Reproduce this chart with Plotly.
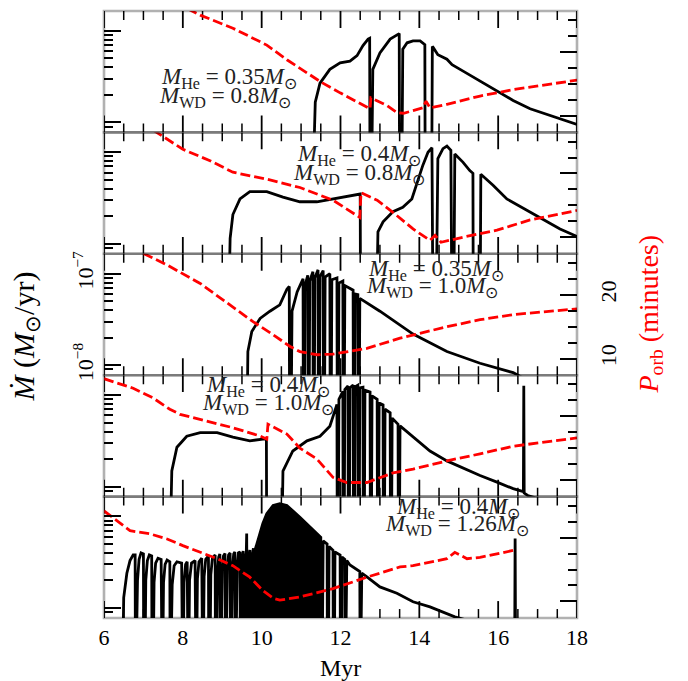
import numpy as np
import plotly.graph_objects as go

# Mass-transfer rate (units of 1e-8 Msun/yr) and orbital period (minutes) vs time (Myr)

# --- M_He = 0.35, M_WD = 0.8 ---
p1_t = [11.28, 11.36, 11.48, 11.73, 11.99, 12.24, 12.42, 12.57, 12.70, 12.74, 12.75, 12.78, 12.82,
        13.00, 13.26, 13.43, 13.49, 13.50, 13.55, 13.58, 13.69, 13.84, 14.02, 14.14, 14.15, 14.31,
        14.33, 14.35, 14.47, 14.70, 14.83, 15.11, 15.54, 15.97, 16.38, 16.81, 17.24, 18.0]
p1_mdot = [0.1, 1.66, 2.69, 3.80, 4.47, 4.68, 5.37, 6.92, 8.13, 8.3, 0.1, 0.1, 3.80,
           5.75, 8.13, 9.12, 9.33, 0.1, 0.1, 6.31, 7.41, 7.76, 7.76, 7.08, 0.1, 0.1,
           6.76, 6.6, 5.50, 4.90, 4.27, 3.63, 2.82, 2.19, 1.74, 1.41, 1.23, 0.95]
p1_tp = [8.12, 8.44, 9.27, 10.13, 10.64, 11.15, 11.53, 11.99, 12.67, 12.75, 12.77, 13.18, 13.43,
         13.60, 13.84, 14.09, 14.17, 14.27, 14.70, 15.54, 16.38, 17.24, 18.0]
p1_porb = [26.8, 25.8, 23.75, 21.1, 18.8, 16.7, 15.2, 13.6, 11.4, 11.1, 12.8, 11.6, 10.5,
           10.4, 10.8, 11.25, 12.3, 11.25, 11.8, 13.1, 14.1, 14.9, 15.6]

# --- M_He = 0.4, M_WD = 0.8 ---
p2_t = [9.15, 9.20, 9.27, 9.45, 9.70, 10.13, 10.54, 10.97, 11.40, 11.81, 12.42, 12.50, 12.51,
        12.90, 12.95, 13.08, 13.33, 13.58, 13.81, 13.94, 14.09, 14.22, 14.32, 14.35, 14.42, 14.47,
        14.60, 14.70, 14.80, 14.83, 14.87, 14.90, 15.11, 15.28, 15.36, 15.37, 15.54, 15.56, 15.87,
        16.22, 16.81, 17.24, 17.57, 18.0]
p2_mdot = [0.1, 1.15, 2.09, 3.09, 3.72, 3.72, 3.24, 2.88, 2.88, 3.09, 3.47, 3.5, 0.1,
           0.1, 1.35, 1.74, 2.24, 2.51, 3.09, 4.68, 7.24, 10.0, 11.2, 0.1, 0.1, 8.51,
           10.96, 11.7, 10.5, 0.1, 0.1, 9.55, 7.76, 6.31, 5.89, 0.1, 0.1, 5.75, 4.37,
           3.09, 2.24, 1.74, 1.45, 1.20]
p2_tp = [7.25, 8.0, 8.69, 9.27, 10.13, 10.97, 11.81, 12.49, 12.52, 12.93, 13.33, 13.84, 14.27,
         14.40, 14.55, 15.11, 15.97, 16.81, 18.0]
p2_porb = [26.8, 23.8, 22.0, 20.2, 19.1, 17.8, 15.8, 13.1, 17.0, 15.8, 13.9, 11.3, 9.5,
           10.3, 9.2, 10.0, 11.1, 12.7, 14.2]

# --- M_He = 0.35, M_WD = 1.0 ---
p3_t = [9.62, 9.65, 9.75, 9.96, 10.21, 10.46, 10.64, 10.70,
        10.71, 10.74, 10.77, 10.90,
        11.05, 11.06, 11.08, 11.10,
        11.17, 11.18, 11.20, 11.22,
        11.30, 11.31, 11.33, 11.35,
        11.43, 11.44, 11.46, 11.48,
        11.56, 11.57, 11.59, 11.61,
        11.73, 11.74, 11.76, 11.78,
        11.91, 11.92, 11.94, 11.96,
        12.06, 12.07, 12.09, 12.11,
        12.32, 12.33, 12.35, 12.37,
        12.44, 12.45, 12.47, 12.49,
        13.0, 13.84, 14.70, 15.54, 16.38, 16.70]
p3_mdot = [0.1, 1.41, 2.34, 3.24, 3.89, 4.57, 6.76, 7.24,
           0.1, 0.1, 3.89, 6.31,
           8.8, 0.1, 0.1, 7.5,
           9.6, 0.1, 0.1, 8.3,
           10.5, 0.1, 0.1, 9.0,
           11.0, 0.1, 0.1, 9.3,
           10.8, 0.1, 0.1, 9.2,
           10.0, 0.1, 0.1, 8.6,
           9.0, 0.1, 0.1, 7.9,
           8.3, 0.1, 0.1, 7.4,
           6.6, 0.1, 0.1, 6.0,
           5.9, 0.1, 0.1, 5.37,
           3.89, 2.19, 1.41, 1.05, 0.83, 0.70]
p3_tp = [7.0, 7.60, 8.44, 9.27, 9.78, 10.29, 10.72, 10.97, 11.40, 11.81, 12.24, 12.67, 13.51,
         14.70, 15.54, 16.38, 18.0]
p3_porb = [26.5, 24.7, 21.8, 18.1, 15.8, 13.75, 11.9, 11.1, 10.6, 10.7, 11.1, 11.6, 13.2,
           15.0, 16.1, 16.9, 17.8]

# --- M_He = 0.4, M_WD = 1.0 ---
p4_t = [7.66, 7.72, 7.85, 8.10, 8.44, 8.87, 9.27, 9.70, 10.03, 10.12, 10.13,
        10.50, 10.54, 10.79, 11.15, 11.48, 11.73, 11.86, 11.91,
        11.92, 11.94, 11.96, 12.06,
        12.07, 12.09, 12.11, 12.19,
        12.20, 12.22, 12.24, 12.32,
        12.33, 12.35, 12.37, 12.44,
        12.45, 12.47, 12.49, 12.57,
        12.58, 12.60, 12.62, 12.75,
        12.76, 12.78, 12.80, 12.93,
        12.94, 12.96, 12.98, 13.08,
        13.09, 13.11, 13.13, 13.26,
        13.27, 13.29, 13.31, 13.46,
        13.47, 13.49, 13.51,
        13.84, 14.27, 14.70, 15.11, 15.54, 15.97, 16.38, 16.64, 16.65, 16.66, 16.75, 17.20]
p4_mdot = [0.1, 1.48, 2.69, 3.55, 3.89, 3.89, 3.47, 3.16, 3.31, 3.3, 0.1,
           0.1, 1.48, 2.45, 3.16, 3.55, 4.57, 6.76, 7.9,
           0.1, 0.1, 9.0, 11.0,
           0.1, 0.1, 11.5, 12.6,
           0.1, 0.1, 12.0, 12.9,
           0.1, 0.1, 12.3, 12.8,
           0.1, 0.1, 12.0, 12.2,
           0.1, 0.1, 11.3, 10.8,
           0.1, 0.1, 9.8, 9.0,
           0.1, 0.1, 8.2, 7.8,
           0.1, 0.1, 7.0, 6.4,
           0.1, 0.1, 5.6, 4.8,
           0.1, 0.1, 4.6,
           3.47, 2.45, 1.91, 1.58, 1.32, 1.12, 0.95, 0.88, 12.6, 0.85, 0.8, 0.7]
p4_tp = [6.0, 6.74, 7.24, 7.67, 7.93, 8.44, 9.27, 9.96, 10.13, 10.16, 10.64, 10.97, 11.40,
         11.81, 12.0, 12.16, 12.67, 13.33, 13.84, 14.70, 15.54, 16.38, 18.0]
p4_porb = [25.9, 24.4, 22.9, 21.1, 20.3, 19.5, 18.2, 16.9, 16.4, 18.75, 17.2, 15.0, 13.3,
           10.4, 9.9, 9.6, 9.6, 11.1, 11.7, 13.0, 14.1, 15.3, 16.6]

# --- M_He = 0.4, M_WD = 1.26 ---
# early flashes
p5_flash_t = [6.46, 6.50, 6.58, 6.66, 6.74, 6.79, 6.80,
              6.82, 6.85, 6.89, 6.94, 7.00, 7.01,
              7.03, 7.06, 7.10, 7.15, 7.21, 7.22,
              7.24, 7.27, 7.31, 7.37, 7.45, 7.46,
              7.48, 7.51, 7.55, 7.60, 7.67, 7.68,
              7.70, 7.73, 7.78, 7.85, 7.97, 7.98,
              8.00, 8.03, 8.07, 8.11, 8.12,
              8.14, 8.17, 8.22, 8.31, 8.32,
              8.34, 8.37, 8.41, 8.48, 8.49,
              8.51, 8.54, 8.58, 8.65, 8.66,
              8.68, 8.71, 8.75, 8.82, 8.83,
              8.85, 8.88, 8.91, 8.94, 8.95,
              8.97, 9.00, 9.03, 9.07, 9.08,
              9.10, 9.13, 9.16, 9.20, 9.21,
              9.23, 9.26, 9.29, 9.32, 9.33,
              9.35, 9.38, 9.41, 9.45, 9.46,
              9.47, 9.50, 9.53, 9.54,
              9.55, 9.58, 9.61, 9.62, 9.63,
              9.64, 9.67, 9.70, 9.71,
              9.72, 9.75, 9.79, 9.80]
p5_flash_mdot = [0.1, 1.3, 2.4, 3.3, 3.8, 3.8, 0.1,
                 0.1, 2.0, 3.4, 4.0, 3.9, 0.1,
                 0.1, 2.0, 3.3, 3.8, 3.7, 0.1,
                 0.1, 1.9, 3.1, 3.5, 3.4, 0.1,
                 0.1, 1.9, 3.0, 3.35, 3.2, 0.1,
                 0.1, 1.8, 2.9, 3.2, 3.1, 0.1,
                 0.1, 1.9, 3.0, 3.2, 0.1,
                 0.1, 2.0, 3.1, 3.3, 0.1,
                 0.1, 2.1, 3.2, 3.5, 0.1,
                 0.1, 2.2, 3.4, 3.7, 0.1,
                 0.1, 2.3, 3.5, 3.8, 0.1,
                 0.1, 2.5, 3.6, 3.9, 0.1,
                 0.1, 2.6, 3.7, 3.95, 0.1,
                 0.1, 2.7, 3.8, 4.0, 0.1,
                 0.1, 2.8, 3.9, 4.1, 0.1,
                 0.1, 2.9, 4.0, 4.1, 0.1,
                 0.1, 3.2, 4.2, 0.1,
                 0.1, 3.3, 4.1, 6.5, 0.1,
                 0.1, 3.4, 4.3, 0.1,
                 0.1, 3.5, 4.5, 0.1]
# densely packed flashes: upper envelope
p5_burst_t = [9.81, 9.83, 9.96, 10.03, 10.13, 10.29, 10.46, 10.64, 10.97, 11.40, 11.50, 11.51]
p5_burst_mdot = [0.1, 4.27, 6.6, 8.4, 10.7, 13.2, 13.8, 13.2, 9.8, 6.6, 5.9, 0.1]
# late flashes and decline
p5_tail_t = [11.53, 11.56, 11.66, 11.67, 11.69, 11.71, 11.81, 11.82, 11.84, 11.86, 11.99, 12.00,
             12.02, 12.04, 12.11, 12.12, 12.14, 12.16, 12.24, 12.49, 12.50, 12.52, 12.54, 12.67,
             13.0, 13.43, 13.84, 14.27, 14.70, 14.90, 15.30, 16.42, 16.43, 16.44]
p5_tail_mdot = [0.1, 5.4, 5.0, 0.1, 0.1, 4.7, 4.27, 0.1, 0.1, 4.1, 3.8, 0.1,
                0.1, 3.6, 3.4, 0.1, 0.1, 3.3, 2.95, 2.5, 0.1, 0.1, 2.4, 2.19,
                1.70, 1.45, 1.17, 1.03, 0.87, 0.80, 0.72, 0.5, 5.75, 0.5]
p5_tp = [6.0, 6.33, 6.66, 7.17, 7.60, 8.0, 8.44, 8.87, 9.27, 9.70, 10.03, 10.29, 10.46, 10.97,
         11.81, 12.67, 13.51, 13.84, 14.70, 14.90, 15.21, 15.54, 16.38, 16.43]
p5_porb = [24.2, 22.7, 21.1, 20.6, 19.8, 18.75, 17.7, 16.7, 15.6, 13.8, 11.7, 10.5, 10.2, 10.7,
           12.0, 13.8, 15.4, 15.6, 16.7, 17.7, 16.7, 16.9, 18.0, 18.0]

p5_t = p5_flash_t + p5_burst_t + p5_tail_t
p5_mdot = p5_flash_mdot + p5_burst_mdot + p5_tail_mdot

labels_he = ["0.35", "0.4", "0.35", "0.4", "0.4"]
labels_wd = ["0.8", "0.8", "1.0", "1.0", "1.26"]

# axis ticks
x_major = [6, 8, 10, 12, 14, 16, 18]
x_minor = [6.5, 7, 7.5, 8.5, 9, 9.5, 10.5, 11, 11.5, 12.5, 13, 13.5, 14.5, 15, 15.5,
           16.5, 17, 17.5]
mdot_major = [1e-8, 1e-7]
mdot_major_text = ["10<sup>−8</sup>", "10<sup>−7</sup>"]
mdot_minor = [9e-9, 2e-8, 3e-8, 4e-8, 5e-8, 6e-8, 7e-8, 8e-8, 9e-8, 2e-7]
porb_major = [10, 20]
porb_minor = [7.5, 12.5, 15, 17.5, 22.5, 25]

panels = [
    (p1_t, p1_mdot, p1_tp, p1_porb),
    (p2_t, p2_mdot, p2_tp, p2_porb),
    (p3_t, p3_mdot, p3_tp, p3_porb),
    (p4_t, p4_mdot, p4_tp, p4_porb),
    (p5_t, p5_mdot, p5_tp, p5_porb),
]

UNIT = 1e-8
LOG_RANGE = [-8.109, -6.783]
PORB_RANGE = [7.39, 26.45]
FONT = "Liberation Serif"
W, H = 688, 681
ML, MR, MT, MB = 104, 111, 8, 63
PW, PH = W - ML - MR, H - MT - MB
PANEL_H = PH / 5
MAJOR_LEN, MINOR_LEN = 17, 9


def px_to_paper(px, py):
    return (px - ML) / PW, (H - MB - py) / PH


def ax_name(prefix, n):
    return prefix if n == 1 else f"{prefix}{n}"


def time_tick_segments(vals, length_px):
    """Short vertical marks at the bottom and top edges of a panel (log Mdot axis)."""
    lo, hi = LOG_RANGE
    d = (hi - lo) * length_px / PANEL_H
    xs, ys = [], []
    for v in vals:
        xs += [v, v, None, v, v, None]
        ys += [10 ** lo, 10 ** (lo + d), None, 10 ** hi, 10 ** (hi - d), None]
    return xs, ys


fig = go.Figure()
layout = {}
tickfont = dict(family=FONT, size=22, color="black")
minor_style = dict(ticks="inside", tickmode="array", ticklen=MINOR_LEN, tickwidth=1.5,
                   tickcolor="black", showgrid=False)

for i, (t, m, tp, pb) in enumerate(panels, start=1):
    xa = ax_name("x", i)
    ya_m = ax_name("y", 2 * i - 1)
    ya_p = ax_name("y", 2 * i)
    dom = [1 - i / 5, 1 - (i - 1) / 5]

    # time-axis tick marks
    for vals, length, width in ((x_major, MAJOR_LEN, 1.8), (x_minor, MINOR_LEN, 1.5)):
        tx, ty = time_tick_segments(vals, length)
        fig.add_trace(go.Scatter(x=tx, y=ty, mode="lines", hoverinfo="skip",
                                 line=dict(color="black", width=width),
                                 xaxis=xa, yaxis=ya_m))

    if i == 5:
        # filled region of the rapid flash sequence
        fill_t = p5_burst_t + [p5_burst_t[-1], p5_burst_t[0]]
        fill_m = p5_burst_mdot + [0.1, 0.1]
        fig.add_trace(go.Scatter(x=fill_t, y=np.array(fill_m) * UNIT, mode="lines",
                                 fill="toself", fillcolor="black",
                                 line=dict(color="black", width=0.5), hoverinfo="skip",
                                 xaxis=xa, yaxis=ya_m))

    fig.add_trace(go.Scatter(x=t, y=np.array(m) * UNIT, mode="lines",
                             line=dict(color="black", width=2.8), xaxis=xa, yaxis=ya_m))
    fig.add_trace(go.Scatter(x=tp, y=pb, mode="lines",
                             line=dict(color="#ff0000", width=2.8, dash="10px,4px"),
                             xaxis=xa, yaxis=ya_p))

    layout[ax_name("xaxis", i)] = dict(
        domain=[0, 1], anchor=ya_m, range=[6, 18], showline=False, ticks="",
        tickmode="array", tickvals=x_major, ticktext=[str(v) for v in x_major],
        showgrid=False, zeroline=False, showticklabels=(i == 5), tickfont=tickfont,
        ticklabelstandoff=4)
    layout[ax_name("yaxis", 2 * i - 1)] = dict(
        domain=dom, anchor=xa, type="log", range=LOG_RANGE, showline=False,
        ticks="inside", ticklen=MAJOR_LEN, tickwidth=1.8, tickcolor="black",
        tickmode="array", tickvals=mdot_major, ticktext=mdot_major_text, tickangle=-90,
        minor=dict(tickvals=mdot_minor, **minor_style), showgrid=False, zeroline=False,
        showticklabels=(i == 3), tickfont=tickfont, ticklabelstandoff=6)
    layout[ax_name("yaxis", 2 * i)] = dict(
        domain=dom, anchor=xa, overlaying=ya_m, side="right", range=PORB_RANGE,
        showline=False, ticks="inside", ticklen=MAJOR_LEN, tickwidth=1.8, tickcolor="black",
        tickmode="array", tickvals=porb_major, ticktext=[str(v) for v in porb_major],
        tickangle=-90, minor=dict(tickvals=porb_minor, **minor_style), showgrid=False,
        zeroline=False, showticklabels=(i == 3), tickfont=tickfont, ticklabelstandoff=16)

# frame around each panel
shapes = []
for i in range(5):
    shapes.append(dict(type="rect", xref="paper", yref="paper", x0=0, x1=1,
                       y0=1 - (i + 1) / 5, y1=1 - i / 5,
                       line=dict(color="black", width=2.6), fillcolor="rgba(0,0,0,0)",
                       layer="above"))

# panel labels (two lines each)
label_pos = [((229, 75), (225, 94)), ((359, 153), (359, 172)), ((436, 268), (432, 285)),
             ((268, 385), (268, 403)), ((458, 507), (457, 525))]
annotations = []
for (he, wd, (pa, pb)) in zip(labels_he, labels_wd, label_pos):
    for text, (px, py) in ((f"<i>M</i><sub>He</sub> = {he}<i>M</i><sub>⊙</sub>", pa),
                           (f"<i>M</i><sub>WD</sub> = {wd}<i>M</i><sub>⊙</sub>", pb)):
        xp, yp = px_to_paper(px, py)
        annotations.append(dict(text=text, x=xp, y=yp, xref="paper", yref="paper",
                                xanchor="center", yanchor="middle", showarrow=False,
                                font=dict(family=FONT, size=23, color="#222222")))

xp, yp = px_to_paper(26, 335)
annotations.append(dict(text="<i>Ṁ</i> (<i>M</i><sub>⊙</sub>/yr)", x=xp, y=yp, xref="paper",
                        yref="paper", xanchor="center", yanchor="middle", textangle=-90,
                        showarrow=False, font=dict(family=FONT, size=30, color="black")))
xp, yp = px_to_paper(650, 313)
annotations.append(dict(text="<i>P</i><sub>orb</sub> (minutes)", x=xp, y=yp, xref="paper",
                        yref="paper", xanchor="center", yanchor="middle", textangle=-90,
                        showarrow=False, font=dict(family=FONT, size=28, color="#ff0000")))
xp, yp = px_to_paper(340, 668)
annotations.append(dict(text="Myr", x=xp, y=yp, xref="paper", yref="paper", showarrow=False,
                        xanchor="center", yanchor="middle",
                        font=dict(family=FONT, size=24, color="black")))

fig.update_layout(width=W, height=H, margin=dict(l=ML, r=MR, t=MT, b=MB),
                  template="simple_white", plot_bgcolor="white", paper_bgcolor="white",
                  showlegend=False, annotations=annotations, shapes=shapes, **layout)

fig.write_html("out.html")
